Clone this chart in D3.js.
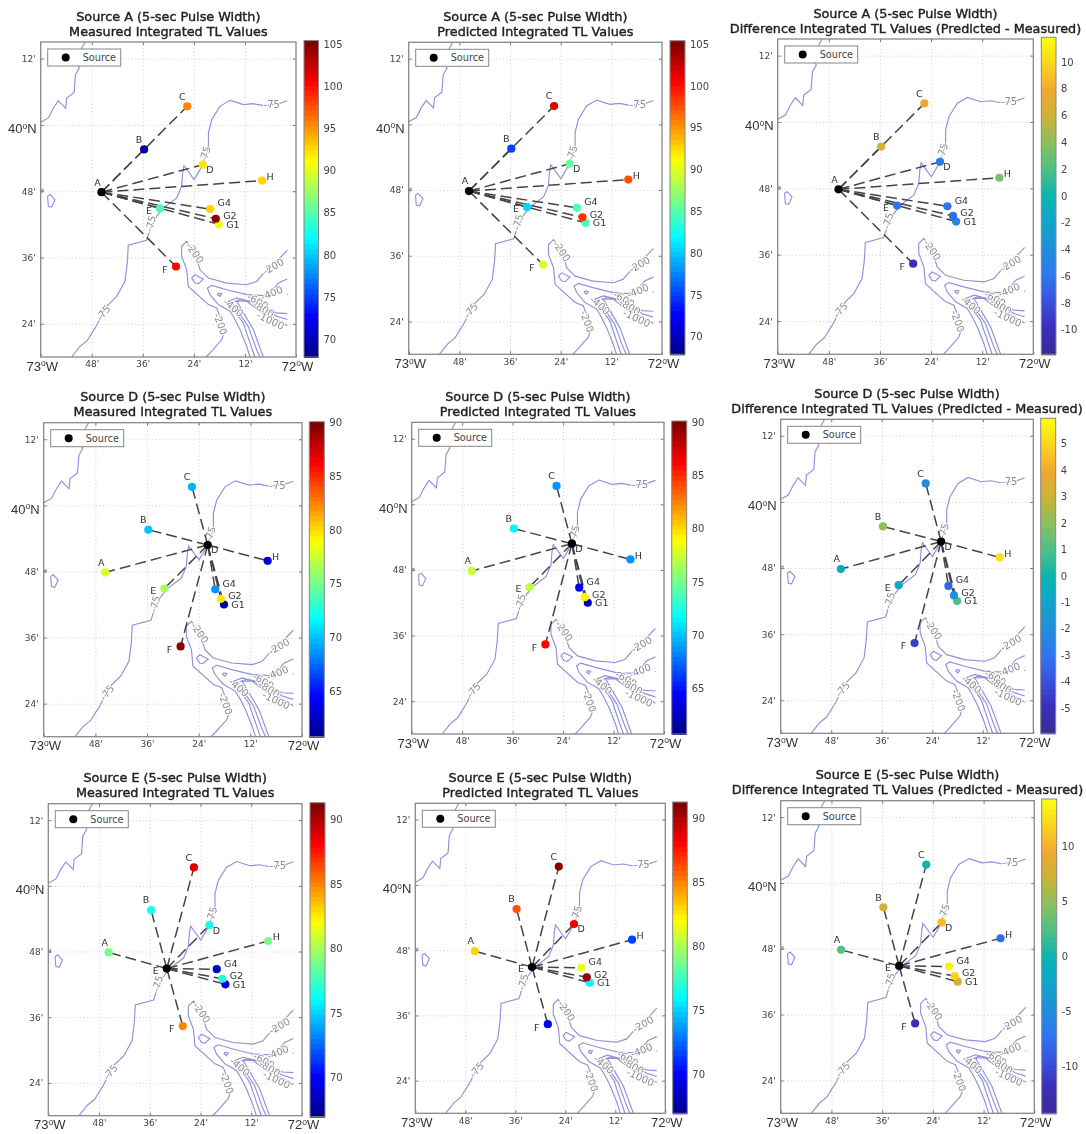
<!DOCTYPE html>
<html>
<head>
<meta charset="utf-8">
<title>Integrated TL values</title>
<script src="https://cdn.jsdelivr.net/npm/d3@7"></script>
<style>
  body { margin: 0; background: #fff; }
  svg { display: block; filter: blur(0.4px); }
  text { font-family: "DejaVu Sans", sans-serif; }
</style>
</head>
<body>
<svg id="chart" width="1086" height="1134"></svg>
<script>
// receiver and source stations
const stationNames = ['A', 'B', 'C', 'D', 'E', 'F', 'G1', 'G2', 'G4', 'H'];
const stationLon = [-72.762, -72.595, -72.426, -72.365, -72.533, -72.47, -72.302, -72.314, -72.336, -72.133];
const stationLat = [39.797, 39.926, 40.056, 39.88, 39.748, 39.573, 39.70, 39.717, 39.746, 39.832];

// integrated TL, same order as stationNames, null = the source itself
const measuredA = [null, 68.7, 96, 92.3, 84.8, 100.7, 90.4, 104.3, 92.6, 92.6];
const predictedA = [null, 75, 101.3, 86, 80.3, 89.7, 84.4, 98.7, 84.8, 97.2];
const diffA = [null, 6.3, 7.5, -5.5, -6, -10.3, -5, -6.5, -6, 3.7];
const measuredD = [78, 70, 69.5, null, 76.8, 89.5, 62, 80, 69, 63.5];
const predictedD = [77.5, 71.5, 68.7, null, 77, 86.4, 62.2, 79.2, 64.6, 68.7];
const diffD = [-0.5, 2.2, -2.2, null, -0.7, -4.5, 1, -1.8, -3.5, 5.3];
const measuredE = [79.1, 76.7, 88.9, 76.5, null, 85.2, 69.4, 77.2, 68.6, 79.1];
const predictedE = [83, 86, 90.6, 88.4, null, 69.9, 76, 90.6, 81.6, 71.8];
const diffE = [3, 8, 0, 10.5, null, -12.5, 8, 12, 13.5, -8];

// tick labels
const lonTicks = [-73, -72.8, -72.6, -72.4, -72.2, -72];
const lonLabels = ['73°W', "48'", "36'", "24'", "12'", '72°W'];
const latTicks = [39.4, 39.6, 39.8, 40, 40.2];
const latLabels = ["24'", "36'", "48'", '40°N', "12'"];

// bathymetry contours, [lon, lat]
const coastNorth = [[-73, 40.008], [-72.97, 40.021], [-72.95, 40.051], [-72.931, 40.073], [-72.902, 40.05], [-72.898, 40.081], [-72.869, 40.098], [-72.864, 40.151], [-72.849, 40.172], [-72.856, 40.187], [-72.839, 40.232], [-72.826, 40.25]];
const contour75 = [[-72.879, 39.3], [-72.846, 39.332], [-72.817, 39.35], [-72.8, 39.372], [-72.787, 39.387], [-72.742, 39.453], [-72.702, 39.483], [-72.67, 39.528], [-72.661, 39.583], [-72.657, 39.637], [-72.585, 39.652], [-72.572, 39.684], [-72.546, 39.724], [-72.52, 39.749], [-72.467, 39.78], [-72.448, 39.815], [-72.444, 39.855], [-72.439, 39.877], [-72.399, 39.835], [-72.376, 39.865], [-72.36, 39.89], [-72.343, 39.935], [-72.343, 39.976], [-72.33, 40.016], [-72.298, 40.056], [-72.258, 40.074], [-72.206, 40.061], [-72.167, 40.064], [-72.128, 40.058], [-72.069, 40.063], [-72.034, 40.073]];
const island75 = [[-72.973, 39.785], [-72.963, 39.79], [-72.944, 39.774], [-72.957, 39.752], [-72.97, 39.754], [-72.973, 39.785]];
const edge75 = [[-73, 39.803], [-72.99, 39.805], [-72.992, 39.798], [-73, 39.798]];
const contour200 = [[-72.352, 39.3], [-72.337, 39.312], [-72.291, 39.352], [-72.278, 39.382], [-72.311, 39.448], [-72.343, 39.458], [-72.422, 39.513], [-72.428, 39.563], [-72.448, 39.604], [-72.448, 39.634], [-72.428, 39.649], [-72.396, 39.614], [-72.376, 39.563], [-72.343, 39.538], [-72.272, 39.523], [-72.193, 39.518], [-72.154, 39.528], [-72.121, 39.558], [-72.056, 39.604], [-72.034, 39.622]];
const island200 = [[-72.409, 39.538], [-72.396, 39.548], [-72.363, 39.535], [-72.383, 39.521], [-72.396, 39.523], [-72.409, 39.538]];
const contour400 = [[-72.034, 39.535], [-72.069, 39.523], [-72.095, 39.498], [-72.128, 39.485], [-72.193, 39.488], [-72.272, 39.503], [-72.33, 39.516], [-72.347, 39.508], [-72.337, 39.488], [-72.304, 39.458], [-72.258, 39.438], [-72.239, 39.413], [-72.219, 39.382], [-72.193, 39.332], [-72.18, 39.3]];
const island400 = [[-72.304, 39.493], [-72.291, 39.491], [-72.298, 39.483], [-72.307, 39.488], [-72.304, 39.493]];
const contour600 = [[-72.034, 39.431], [-72.076, 39.433], [-72.128, 39.448], [-72.18, 39.468], [-72.232, 39.478], [-72.265, 39.468], [-72.252, 39.451], [-72.206, 39.402], [-72.18, 39.342], [-72.161, 39.3]];
const contour800 = [[-72.034, 39.413], [-72.076, 39.423], [-72.154, 39.463], [-72.219, 39.473], [-72.252, 39.463], [-72.232, 39.443], [-72.187, 39.392], [-72.154, 39.322], [-72.141, 39.3]];
const contour1000 = [[-72.034, 39.394], [-72.076, 39.413], [-72.141, 39.438], [-72.193, 39.468], [-72.232, 39.468], [-72.213, 39.443], [-72.167, 39.382], [-72.128, 39.3]];
const contours = [coastNorth, contour75, island75, edge75, contour200, island200, contour400, island400, contour600, contour800, contour1000];

const labelText = ['-75', '-75', '-75', '-75', '-200', '-200', '-200', '-400', '-400', '-600', '-800', '-1000'];
const labelLon = [-72.356, -72.569, -72.095, -72.755, -72.396, -72.089, -72.296, -72.095, -72.245, -72.15, -72.127, -72.1];
const labelLat = [39.912, 39.702, 40.061, 39.433, 39.614, 39.573, 39.4, 39.493, 39.449, 39.468, 39.444, 39.41];
const labelAngle = [-72, -75, 0, -50, 55, -30, 70, -22, 40, 30, 30, 25];

// station label offsets in px
const nameDx = [-4, -5, -5, 7, -11, -11, 14, 14, 14, 8];
const nameDy = [-10, -10, -10, 5, 2, 3, 0, -3, -6, -4];

// colour maps
const jetStops = ['#00008f', '#0000ff', '#00ffff', '#ffff00', '#ff0000', '#800000'];
const jetAt = [0, 0.125, 0.375, 0.625, 0.875, 1];
const diffStops = ['#3a2a9c', '#3a30b8', '#3a50dc', '#2f78ee', '#2090d8', '#10a8c8', '#08b4b0', '#48c088', '#88c060', '#c8b438', '#f0a830', '#fcd020', '#fafa10'];
const diffAt = [0, 0.08, 0.16, 0.25, 0.34, 0.43, 0.5, 0.58, 0.67, 0.75, 0.84, 0.92, 1];
const jet = d3.scaleLinear().domain(jetAt).range(jetStops);
const parula = d3.scaleLinear().domain(diffAt).range(diffStops);

const panels = [
  { src: 'A', kind: 'm', vals: measuredA, dom: [67.9, 105.4], ticks: d3.range(70, 106, 5), box: [40.7, 42, 296, 357], cb: [304, 40.5, 318.5, 357] },
  { src: 'A', kind: 'p', vals: predictedA, dom: [67.9, 105.4], ticks: d3.range(70, 106, 5), box: [408.7, 42.3, 662, 354.3], cb: [670, 40.7, 685, 354.3] },
  { src: 'A', kind: 'd', vals: diffA, dom: [-11.85, 11.85], ticks: d3.range(-10, 11, 2), box: [777.7, 39, 1033.3, 354.3], cb: [1041.3, 37.3, 1056, 354.3] },
  { src: 'D', kind: 'm', vals: measuredD, dom: [60.75, 90.1], ticks: d3.range(65, 91, 5), box: [43.7, 422.7, 302, 736.7], cb: [309.3, 421.7, 324.3, 736.7] },
  { src: 'D', kind: 'p', vals: predictedD, dom: [60.75, 90.1], ticks: d3.range(65, 91, 5), box: [411.7, 422.3, 664, 734], cb: [671.7, 421, 686.7, 734] },
  { src: 'D', kind: 'd', vals: diffD, dom: [-5.95, 5.95], ticks: d3.range(-5, 6, 1), box: [780.7, 419.3, 1033.3, 733.3], cb: [1040.7, 418.3, 1055.7, 733.3] },
  { src: 'E', kind: 'm', vals: measuredE, dom: [66.95, 91.3], ticks: d3.range(70, 91, 5), box: [48.3, 803.7, 302, 1115.7], cb: [310, 802.7, 325, 1116.7] },
  { src: 'E', kind: 'p', vals: predictedE, dom: [66.95, 91.3], ticks: d3.range(70, 91, 5), box: [415.3, 803.3, 665.3, 1113.3], cb: [672.7, 802, 687.3, 1113.3] },
  { src: 'E', kind: 'd', vals: diffE, dom: [-14.3, 14.3], ticks: d3.range(-10, 11, 5), box: [780.7, 800.7, 1034.3, 1113.3], cb: [1041.7, 799, 1056.7, 1113.3] }
];

const subtitles = {
  m: 'Measured Integrated TL Values',
  p: 'Predicted Integrated TL Values',
  d: 'Difference Integrated TL Values (Predicted - Measured)'
};

const svg = d3.select('#chart');

// "73°W" with a raised small o, as in the original figure
function degreeLabel(sel) {
  sel.each(function() {
    const t = d3.select(this);
    const s = t.text();
    if (s.indexOf('°') < 0) return;
    const parts = s.split('°');
    t.text(null).style('font-family', '"Liberation Sans", sans-serif')
      .style('font-size', '13px').attr('fill', '#333');
    t.append('tspan').text(parts[0]);
    t.append('tspan').text('o').attr('dy', -4.5).style('font-size', '8.5px');
    t.append('tspan').text(parts[1]).attr('dy', 4.5);
  });
}

function styleAxis(g) {
  g.select('.domain').remove();
  g.selectAll('.tick line').attr('stroke', '#777');
}

panels.forEach(p => {
  const [x0, y0, x1, y1] = p.box;
  const g = svg.append('g');
  const x = d3.scaleLinear().domain([-73, -72]).range([x0, x1]);
  const y = d3.scaleLinear().domain([39.3, 40.25]).range([y1, y0]);
  const w = x1 - x0, h = y1 - y0;

  const cmap = p.kind === 'd' ? parula : jet;
  const color = d3.scaleQuantize().domain(p.dom).range(d3.range(64).map(i => cmap(i / 63)));

  // title
  const title = g.append('text').attr('text-anchor', 'middle')
    .attr('fill', '#222').attr('stroke', '#222').attr('stroke-width', 0.4)
    .style('font-size', '12.8px');
  title.append('tspan').attr('x', (x0 + x1) / 2).attr('y', y0 - 21.5)
    .text('Source ' + p.src + ' (5-sec Pulse Width)');
  title.append('tspan').attr('x', (x0 + x1) / 2).attr('y', y0 - 6.5)
    .text(subtitles[p.kind]);

  // dotted grid
  const gridX = g.append('g').attr('transform', `translate(0,${y1})`)
    .call(d3.axisBottom(x).tickValues(lonTicks.slice(1, -1)).tickSize(-h).tickFormat(''));
  const gridY = g.append('g').attr('transform', `translate(${x0},0)`)
    .call(d3.axisLeft(y).tickValues(latTicks).tickSize(-w).tickFormat(''));
  [gridX, gridY].forEach(a => {
    a.select('.domain').remove();
    a.selectAll('.tick line').attr('stroke', '#ccc').attr('stroke-dasharray', '1 2.5');
  });

  // contours
  const line = d3.line().x(d => x(d[0])).y(d => y(d[1]));
  g.selectAll('path.contour').data(contours).join('path').attr('class', 'contour')
    .attr('d', line).attr('fill', 'none').attr('stroke', '#9090dc').attr('stroke-width', 1.15);
  g.append('circle').attr('cx', x(-72.034)).attr('cy', y(39.49)).attr('r', 0.7).attr('fill', '#aaa');

  g.selectAll('text.clabel').data(labelText).join('text').attr('class', 'clabel')
    .attr('transform', (d, i) => `translate(${x(labelLon[i])},${y(labelLat[i])}) rotate(${labelAngle[i]})`)
    .attr('text-anchor', 'middle').attr('dy', '0.35em')
    .attr('fill', '#8c8c8c').attr('stroke', '#fff').attr('stroke-width', 2).style('paint-order', 'stroke')
    .style('font-size', '10px').text(d => d);

  // dashed paths from source to each receiver
  const srcIdx = stationNames.indexOf(p.src);
  const others = d3.range(stationNames.length).filter(i => i !== srcIdx);
  g.selectAll('line.path').data(others).join('line').attr('class', 'path')
    .attr('x1', x(stationLon[srcIdx])).attr('y1', y(stationLat[srcIdx]))
    .attr('x2', i => x(stationLon[i])).attr('y2', i => y(stationLat[i]))
    .attr('stroke', '#444').attr('stroke-width', 1.5).attr('stroke-dasharray', '11 5');

  // stations
  g.selectAll('circle.st').data(stationNames).join('circle').attr('class', 'st')
    .attr('cx', (d, i) => x(stationLon[i])).attr('cy', (d, i) => y(stationLat[i]))
    .attr('r', 4.1)
    .attr('fill', (d, i) => p.vals[i] === null ? '#000' : color(p.vals[i]));
  g.selectAll('text.st').data(stationNames).join('text').attr('class', 'st')
    .attr('x', (d, i) => x(stationLon[i]) + nameDx[i]).attr('y', (d, i) => y(stationLat[i]) + nameDy[i])
    .attr('text-anchor', 'middle').attr('dy', '0.35em').attr('fill', '#333')
    .style('font-size', '9.5px').text(d => d);

  // frame ticks and labels
  const bottom = g.append('g').attr('transform', `translate(0,${y1})`)
    .call(d3.axisBottom(x).tickValues(lonTicks).tickSizeInner(-3).tickSizeOuter(0).tickPadding(4)
      .tickFormat((d, i) => lonLabels[i]))
    .call(styleAxis);
  const left = g.append('g').attr('transform', `translate(${x0},0)`)
    .call(d3.axisLeft(y).tickValues(latTicks).tickSizeInner(-3).tickSizeOuter(0).tickPadding(5)
      .tickFormat((d, i) => latLabels[i]))
    .call(styleAxis);
  g.append('g').attr('transform', `translate(0,${y0})`)
    .call(d3.axisTop(x).tickValues(lonTicks.slice(1, -1)).tickSizeInner(-3).tickSizeOuter(0).tickFormat(''))
    .call(styleAxis);
  g.append('g').attr('transform', `translate(${x1},0)`)
    .call(d3.axisRight(y).tickValues(latTicks).tickSizeInner(-3).tickSizeOuter(0).tickFormat(''))
    .call(styleAxis);
  [bottom, left].forEach(a => a.selectAll('text').attr('fill', '#444').style('font-size', '9px'));
  bottom.selectAll('text').call(degreeLabel);
  left.selectAll('text').call(degreeLabel);
  bottom.selectAll('text').filter(d => d === -73 || d === -72).attr('dx', 1).attr('dy', '0.75em');
  left.selectAll('text').filter(d => d === 40).attr('dx', 1).attr('dy', '0.6em');

  g.append('rect').attr('x', x0).attr('y', y0).attr('width', w).attr('height', h)
    .attr('fill', 'none').attr('stroke', '#888').attr('stroke-width', 1.3);

  // legend
  const leg = g.append('g').attr('transform', `translate(${x0 + 7},${y0 + 7})`);
  leg.append('rect').attr('width', 73).attr('height', 17).attr('fill', '#fff')
    .attr('stroke', '#888').attr('stroke-width', 1);
  leg.append('circle').attr('cx', 18).attr('cy', 8.5).attr('r', 4).attr('fill', '#000');
  leg.append('text').attr('x', 35).attr('y', 8.5).attr('dy', '0.35em').attr('fill', '#444')
    .style('font-size', '9.7px').text('Source');

  // colour bar
  const [cx0, cy0, cx1, cy1] = p.cb;
  const cy = d3.scaleLinear().domain(p.dom).range([cy1, cy0]);
  g.selectAll('rect.band').data(color.range()).join('rect').attr('class', 'band')
    .attr('x', cx0).attr('width', cx1 - cx0)
    .attr('y', d => cy(color.invertExtent(d)[1]))
    .attr('height', d => cy(color.invertExtent(d)[0]) - cy(color.invertExtent(d)[1]) + 1)
    .attr('fill', d => d);
  g.append('rect').attr('x', cx0).attr('y', cy0).attr('width', cx1 - cx0).attr('height', cy1 - cy0)
    .attr('fill', 'none').attr('stroke', '#888').attr('stroke-width', 1);
  const cbAxis = g.append('g').attr('transform', `translate(${cx1},0)`)
    .call(d3.axisRight(cy).tickValues(p.ticks).tickSizeInner(0).tickSizeOuter(0).tickPadding(5)
      .tickFormat(d => d < 0 ? '-' + Math.abs(d) : d));
  cbAxis.select('.domain').remove();
  cbAxis.selectAll('text').attr('fill', '#444').style('font-size', '10px');
});
</script>
</body>
</html>
